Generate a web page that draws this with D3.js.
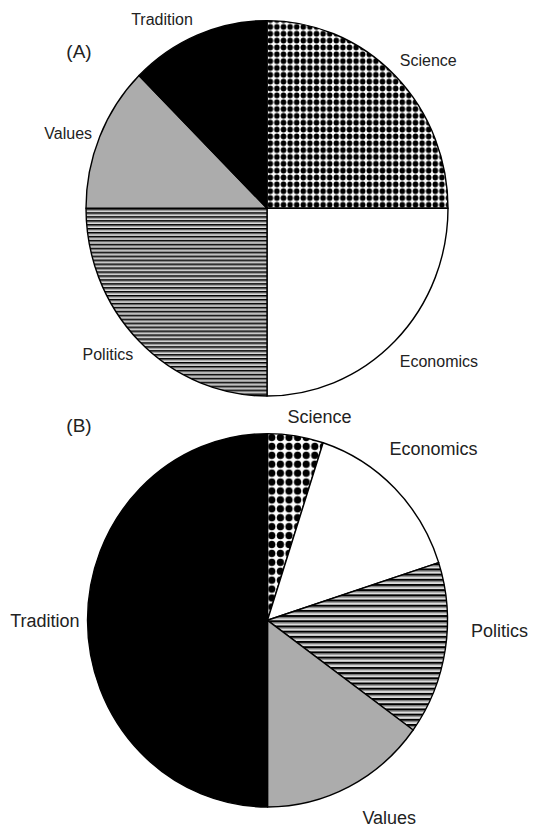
<!DOCTYPE html>
<html>
<head>
<meta charset="utf-8">
<script src="https://cdn.jsdelivr.net/npm/d3@7"></script>
<style>
  html, body { margin: 0; padding: 0; background: #fff; }
  svg { display: block; }
  text { font-family: "Liberation Sans", Arial, sans-serif; fill: #222; }
</style>
</head>
<body>
<script>
// ---- data ----
const categories = ["Science", "Economics", "Politics", "Values", "Tradition"];
const valuesA = [25, 25, 25, 12.5, 12.5];
const valuesB = [5, 15, 15, 15, 50];
const panelLabels = ["(A)", "(B)"];

// ---- layout ----
const W = 543, H = 827;
const svg = d3.select("body").append("svg").attr("width", W).attr("height", H);
const defs = svg.append("defs");

function dotPattern(id, p) {
  const pat = defs.append("pattern").attr("id", id).attr("patternUnits", "userSpaceOnUse")
    .attr("width", p).attr("height", p);
  pat.append("rect").attr("width", p).attr("height", p).attr("fill", "#fff");
  pat.append("circle").attr("cx", p / 2).attr("cy", p / 2).attr("r", p * 0.42).attr("fill", "#000");
}
function stripePattern(id, h) {
  const pat = defs.append("pattern").attr("id", id).attr("patternUnits", "userSpaceOnUse")
    .attr("width", 10).attr("height", h);
  pat.append("rect").attr("width", 10).attr("height", h).attr("fill", "#dcdcdc");
  pat.append("rect").attr("width", 10).attr("height", h * 0.42).attr("fill", "#000");
  pat.append("rect").attr("y", h * 0.42).attr("width", 10).attr("height", h * 0.2).attr("fill", "#808080");
}
dotPattern("dotsA", 6.6);
dotPattern("dotsB", 8.6);
stripePattern("stripesA", 3.8);
stripePattern("stripesB", 5);

const fills = {
  A: ["url(#dotsA)", "#ffffff", "url(#stripesA)", "#acacac", "#000000"],
  B: ["url(#dotsB)", "#ffffff", "url(#stripesB)", "#acacac", "#000000"]
};

const pie = d3.pie().sort(null).startAngle(0).endAngle(2 * Math.PI);

const panels = [
  { key: "A", values: valuesA, cx: 267, cy: 208.3, r: 181, sy: 1.037, fs: 16,
    tag: panelLabels[0], tagX: 79, tagY: 51,
    nudge: [[-8, -2], [-8, 7], [7, 0], [9, 4], [2, 2]] },
  { key: "B", values: valuesB, cx: 267.5, cy: 620.3, r: 180, sy: 1.037, fs: 18,
    tag: panelLabels[1], tagX: 79, tagY: 425,
    nudge: [[-11, -1], [-18, -26], [8, -22], [5, 14], [10, 0]] }
];

panels.forEach(P => {
  const arcs = pie(P.values);
  const g = svg.append("g")
    .attr("transform", `translate(${P.cx},${P.cy}) scale(1,${P.sy})`);
  const arc = d3.arc().innerRadius(0).outerRadius(P.r);
  g.selectAll("path").data(arcs).join("path")
    .attr("d", arc)
    .attr("fill", (d, i) => fills[P.key][i])
    .attr("stroke", "#000")
    .attr("stroke-width", 1.4)
    .attr("stroke-linejoin", "round");

  // labels, R-style: at 1.1 radius, anchored by side
  svg.append("g").selectAll("text").data(arcs).join("text")
    .attr("x", (d, i) => {
      const a = (d.startAngle + d.endAngle) / 2;
      return P.cx + 1.1 * P.r * Math.sin(a) + P.nudge[i][0];
    })
    .attr("y", (d, i) => {
      const a = (d.startAngle + d.endAngle) / 2;
      return P.cy - 1.1 * P.r * P.sy * Math.cos(a) + P.nudge[i][1];
    })
    .attr("dy", "0.35em")
    .attr("text-anchor", d => Math.sin((d.startAngle + d.endAngle) / 2) < 0 ? "end" : "start")
    .attr("font-size", P.fs)
    .text((d, i) => categories[i]);

  svg.append("text")
    .attr("x", P.tagX).attr("y", P.tagY).attr("dy", "0.35em")
    .attr("text-anchor", "middle")
    .attr("font-size", 19)
    .text(P.tag);
});
</script>
</body>
</html>
